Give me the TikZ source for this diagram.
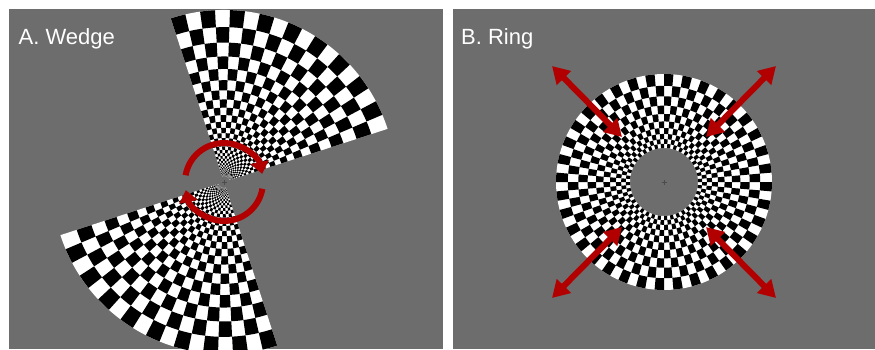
\documentclass[tikz,border=0pt]{standalone}
\usepackage{fontspec}
\setmainfont{Liberation Sans}
\usepackage{tikz}
\usetikzlibrary{arrows.meta}
\definecolor{bggray}{RGB}{109,109,109}
\definecolor{arrowred}{RGB}{178,0,0}

\begin{document}
\begin{tikzpicture}[x=1pt,y=1pt,
  panelbg/.style={fill=bggray},
  paneltitle/.style={text=white,font=\fontsize{22}{26}\selectfont,anchor=base west,inner sep=0pt},
  rotarrow/.style={draw=arrowred,line width=6pt,-{Triangle[length=12pt,width=18pt]}},
  exparrow/.style={draw=arrowred,line width=6pt,{Triangle[length=17pt,width=19pt]}-{Triangle[length=17pt,width=19pt]}},
  fixcross/.style={draw=black!70,line width=0.5pt}]
  \useasboundingbox (0,0) rectangle (875,349);
  % panels
  \fill[panelbg] (9,0) rectangle (443,340);
  \fill[panelbg] (453,0) rectangle (875,340);
  \coordinate (cA) at (224,167);
  \coordinate (cB) at (664,167);
  % A: two opposite wedges
  \begin{scope}[shift={(cA)}]
    \clip (-215,-167) rectangle (219,173);
    \foreach \s in {18,198} {
      \fill[white] (\s:6) -- (\s:172) arc[start angle=\s,end angle=\s+90,radius=172]
        -- (\s+90:6) arc[start angle=\s+90,end angle=\s,radius=6] -- cycle;
      \foreach \k in {0,...,31} {
        \pgfmathsetmacro\ra{6*(172/6)^(\k/32)}
        \pgfmathsetmacro\rb{6*(172/6)^((\k+1)/32)}
        \foreach \i in {0,2,...,16} {
          \pgfmathsetmacro\a{\s+5*(\i+mod(\k,2))}
          \fill[black] (\a:\ra) arc[start angle=\a,end angle=\a+5,radius=\ra]
            -- (\a+5:\rb) arc[start angle=\a+5,end angle=\a,radius=\rb] -- cycle;
        }
      }
    }
  \end{scope}
  % B: ring
  \begin{scope}[shift={(cB)}]
    \fill[white,even odd rule] (0,0) circle[radius=108] (0,0) circle[radius=34];
    \foreach \k in {0,...,9} {
      \pgfmathsetmacro\ra{34*(108/34)^(\k/10)}
      \pgfmathsetmacro\rb{34*(108/34)^((\k+1)/10)}
      \foreach \i in {0,2,...,70} {
        \pgfmathsetmacro\a{5*(\i+mod(\k,2))}
        \fill[black] (\a:\ra) arc[start angle=\a,end angle=\a+5,radius=\ra]
          -- (\a+5:\rb) arc[start angle=\a+5,end angle=\a,radius=\rb] -- cycle;
      }
    }
  \end{scope}
  % rotation arrows
  \draw[rotarrow] ([shift={(170:39)}]cA) arc[start angle=170,end angle=12,radius=39];
  \draw[rotarrow] ([shift={(-10:39)}]cA) arc[start angle=-10,end angle=-168,radius=39];
  % expansion arrows
  \foreach \sx/\sy/\n in {-1/1/ul,1/1/ur,-1/-1/ll,1/-1/lr} {
    \coordinate (in\n) at ([shift={(\sx*42,\sy*45)}]cB);
    \coordinate (out\n) at ([shift={(\sx*112,\sy*116)}]cB);
    \draw[exparrow] (in\n) -- (out\n);
  }
  % fixation
  \foreach \c in {cA,cB}
    \draw[fixcross] ([xshift=-2.5pt]\c) -- ([xshift=2.5pt]\c) ([yshift=-2.5pt]\c) -- ([yshift=2.5pt]\c);
  % titles
  \node[paneltitle] (ttlA) at (18.5,305) {A. Wedge};
  \node[paneltitle] (ttlB) at (461,305) {B. Ring};
\end{tikzpicture}
\end{document}
